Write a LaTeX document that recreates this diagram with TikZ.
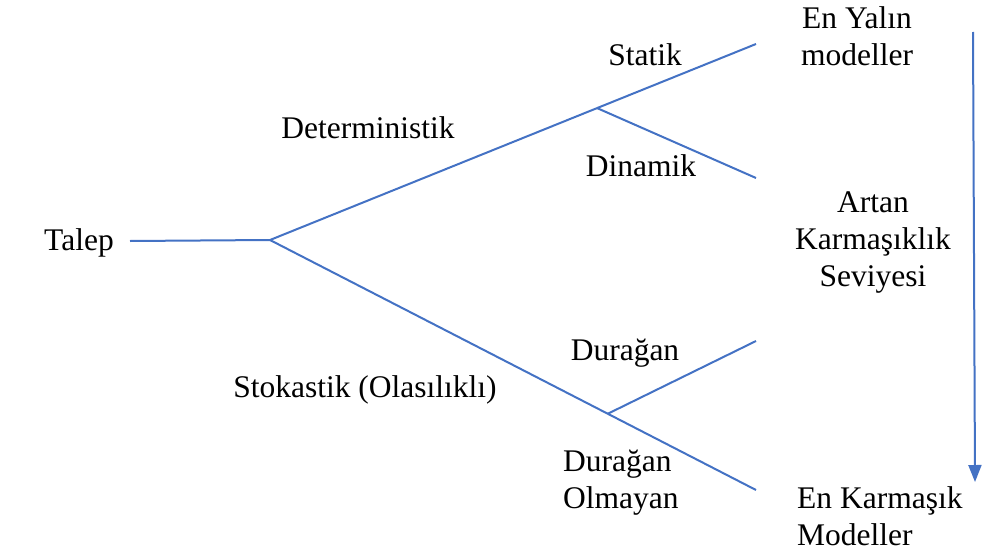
\documentclass[tikz,border=0pt]{standalone}
\usepackage{fontspec}
\setmainfont{Liberation Serif}
\usetikzlibrary{arrows.meta,calc}
\definecolor{linkblue}{RGB}{68,114,196}
\tikzset{
  lbl/.style={inner sep=0pt,font=\fontsize{31.5}{37}\selectfont,anchor=base},
  branch/.style={draw=linkblue,line width=2pt},
  scalearrow/.style={draw=linkblue,line width=2pt,-{Triangle[width=13pt,length=17pt]}}
}
\begin{document}
\begin{tikzpicture}[x=1pt,y=-1pt]
\useasboundingbox (0,0) rectangle (984,551);
% junctions and free ends
\coordinate (tstart) at (130,241);
\coordinate (R) at (270,240);
\coordinate (Send) at (756,44);
\coordinate (Kend) at (756,490);
\coordinate (D1) at ($(R)!0.673!(Send)$);
\coordinate (D2) at ($(R)!0.695!(Kend)$);
\coordinate (Dend) at (756,178);
\coordinate (Uend) at (756,341);
\coordinate (atop) at (973,32);
\coordinate (abot) at (975,482);
% labels
\node[lbl] (talep) at (79,250) {Talep};
\node[lbl] (det) at (368,138) {Deterministik};
\node[lbl] (statik) at (645,66) {Statik};
\node[lbl] (dinamik) at (641,176) {Dinamik};
\node[lbl,align=center,anchor=north] (yalin) at (857,6) {En Yalın\\modeller};
\node[lbl,align=center,anchor=north] (artan) at (873,192) {Artan\\Karmaşıklık\\Seviyesi};
\node[lbl] (duragan) at (625,360) {Durağan};
\node[lbl] (stok) at (365,397) {Stokastik (Olasılıklı)};
\node[lbl,align=left,anchor=north west] (olmayan) at (563,450) {Durağan\\Olmayan};
\node[lbl,align=left,anchor=north west] (karmasik) at (797,486) {En Karmaşık\\Modeller};
% connectors
\draw[branch] (tstart) -- (R);
\draw[branch] (R) -- (D1) -- (Send);
\draw[branch] (D1) -- (Dend);
\draw[branch] (R) -- (D2) -- (Kend);
\draw[branch] (D2) -- (Uend);
\draw[scalearrow] (atop) -- (abot);
\end{tikzpicture}
\end{document}
